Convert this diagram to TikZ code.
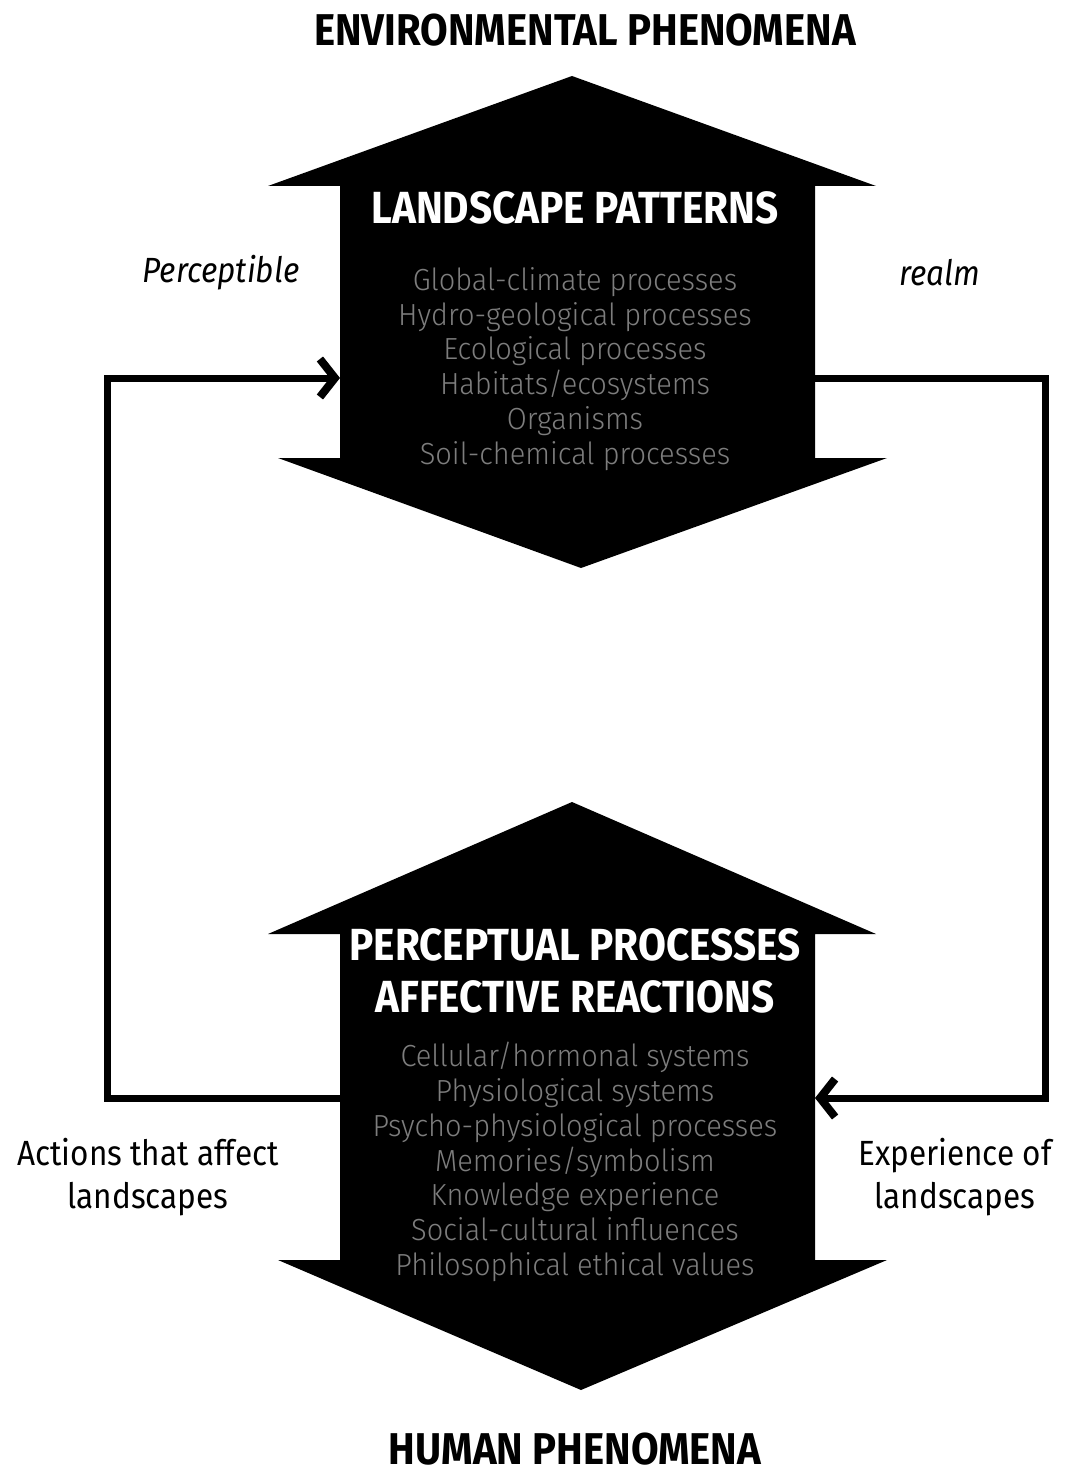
\documentclass[tikz,border=0pt]{standalone}
\usepackage{fontspec}
\setmainfont{Fira Sans}[FakeStretch=0.9]
\newfontfamily\lightfont{Fira Sans Light}[FakeStretch=0.95]
\usetikzlibrary{arrows.meta}
\definecolor{listgray}{RGB}{125,125,125}

\begin{document}
\begin{tikzpicture}[x=1pt,y=-1pt]
	\tikzstyle{heading}=[font=\bfseries\fontsize{44.5}{46}\selectfont,inner sep=1pt]
	\tikzstyle{title}=[text=white,font=\bfseries\fontsize{45}{52}\selectfont,align=center]
	\tikzstyle{items}=[text=listgray,font=\lightfont\fontsize{30.5}{34.8}\selectfont,align=center]
	\tikzstyle{side}=[font=\fontsize{35}{43}\selectfont,align=center]
	\tikzstyle{link}=[line width=7pt,-{Straight Barb[length=15pt,width=38pt,line width=8pt]}]
	\useasboundingbox (0,0) rectangle (1065,1474);
	
	% upper arrow: landscape patterns
	\fill (572,76) -- (876,186) -- (815,186) -- (815,458) -- (887,458) -- (581,568)
		-- (278,458) -- (340,458) -- (340,186) -- (268,186) -- cycle;
	% lower arrow: perception
	\fill (572,802) -- (876,934) -- (815,934) -- (815,1260) -- (887,1260) -- (581,1390)
		-- (278,1260) -- (340,1260) -- (340,934) -- (268,934) -- cycle;
	
	\coordinate (upL) at (340,378);
	\coordinate (upR) at (815,378);
	\coordinate (lowL) at (340,1098);
	\coordinate (lowR) at (815,1098);
	\coordinate (leftbend) at (107,740);
	\coordinate (rightbend) at (1045,740);
	
	\node[heading](env) at (585,30){ENVIRONMENTAL PHENOMENA};
	\node[heading](hum) at (575,1449){HUMAN PHENOMENA};
	
	\node[title](patterns) at (575,208){LANDSCAPE PATTERNS};
	\node[items](plist) at (575,369){Global-climate processes\\Hydro-geological processes\\Ecological processes\\Habitats/ecosystems\\Organisms\\Soil-chemical processes};
	
	\node[title](percept) at (575,971){PERCEPTUAL PROCESSES\\AFFECTIVE REACTIONS};
	\node[items](hlist) at (575,1162){Cellular/hormonal systems\\Physiological systems\\Psycho-physiological processes\\Memories/symbolism\\Knowledge experience\\Social-cultural influences\\Philosophical ethical values};
	
	\node[side,font=\itshape\fontsize{35}{43}\selectfont](perc) at (221,273){Perceptible};
	\node[side,font=\itshape\fontsize{35}{43}\selectfont](realm) at (940,273){realm};
	\node[side](actions) at (148,1177){Actions that affect\\landscapes};
	\node[side](exper) at (955,1177){Experience of\\landscapes};
	
	\draw[link] (lowL) -| (leftbend) |- (upL);
	\draw[link] (upR) -| (rightbend) |- (lowR);
\end{tikzpicture}
\end{document}
